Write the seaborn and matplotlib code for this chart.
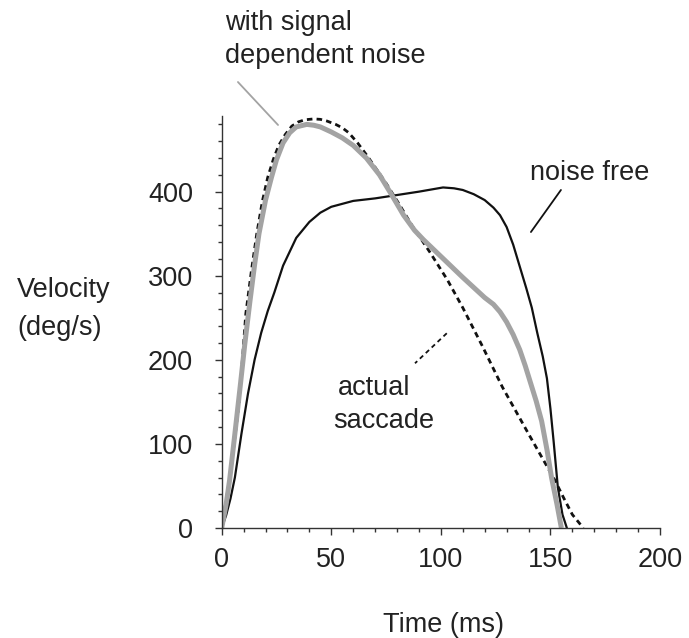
import matplotlib
matplotlib.use("Agg")
import matplotlib.pyplot as plt
import seaborn as sns
import pandas as pd
import numpy as np

# ---- data ----
noise_free_t = [0, 2, 4, 6, 9, 12, 15, 18, 21, 24, 28, 34, 40, 45, 50, 60, 70, 80, 90, 101,
                106, 110, 115, 120, 124, 127, 130, 133, 136, 139, 141.5, 144, 146.5, 148.4,
                150, 151.5, 153.4, 155.5, 157.5]
noise_free_v = [0, 15, 35, 60, 112, 160, 200, 232, 258, 280, 312, 345, 364, 375, 382, 389, 392,
                396, 400, 405, 404, 402, 397, 390, 381, 372, 358, 337, 311, 285, 262, 232, 204,
                178, 142, 102, 48, 16, 0]

noisy_t = [0, 2, 3.6, 6, 8.5, 10.5, 12.8, 15, 17, 20, 22.7, 25, 28, 31, 34, 38.8, 42, 45, 50,
           55, 60, 66, 72, 77.6, 83, 88, 92, 96, 100, 110, 120, 124, 127, 130, 133, 136, 138.5,
           141, 143.5, 146, 148.5, 150.5, 153, 155]
noisy_v = [0, 28, 57, 112, 170, 218, 268, 313, 350, 390, 417, 438, 458, 470, 477, 480, 479, 477,
           471, 464, 455, 440, 420, 396, 372, 354, 343, 333, 323, 298, 274, 266, 257, 245, 230,
           212, 193, 172, 151, 127, 92, 60, 28, 0]

actual_t = [0, 4, 8, 11, 13.5, 16, 18.5, 21, 23.5, 26, 29, 32, 35, 38, 42, 45, 48, 52, 55, 58,
            62, 66, 70, 75, 81, 87, 95, 103, 110, 119, 128, 140, 152, 156, 160, 165]
actual_v = [0, 65, 150, 255, 305, 350, 388, 417, 438, 455, 468, 478, 483, 485.5, 486.5, 486, 484,
            480, 476, 470, 458, 444, 429, 410, 385, 359, 328, 295, 262, 216, 168, 112, 57, 36,
            16, 0]

x_ticks = [0, 50, 100, 150, 200]
y_ticks = [0, 100, 200, 300, 400]

# ---- style ----
sns.set_theme(style="white")
plt.rcParams["font.family"] = ["Liberation Sans", "DejaVu Sans"]
TXT = "#222222"
FS = 19.5

fig = plt.figure(figsize=(6.89, 6.38), dpi=100)
ax = fig.add_axes([0.3218, 0.17241, 0.6361, 0.6458])

df_nf = pd.DataFrame({"t": noise_free_t, "v": noise_free_v})
df_ns = pd.DataFrame({"t": noisy_t, "v": noisy_v})
df_ac = pd.DataFrame({"t": actual_t, "v": actual_v})

sns.lineplot(data=df_nf, x="t", y="v", ax=ax, color="#111111", linewidth=1.6, sort=False)
ax.lines[-1].set_solid_joinstyle("round")
sns.lineplot(data=df_ac, x="t", y="v", ax=ax, color="#111111", linewidth=2.0, sort=False)
ax.lines[-1].set_dashes((2.0, 1.5))
sns.lineplot(data=df_ns, x="t", y="v", ax=ax, color="#a3a3a3", linewidth=3.6, sort=False)
ax.lines[-1].set_solid_capstyle("butt")
ax.lines[-1].set_solid_joinstyle("round")

ax.set_xlim(0, 200)
ax.set_ylim(0, 490)
ax.set_xticks(x_ticks)
ax.set_yticks(y_ticks)
ax.set_xticks(np.arange(0, 201, 10), minor=True)
ax.set_yticks(np.arange(0, 481, 20), minor=True)
ax.set_xticklabels([str(t) for t in x_ticks])
ax.set_yticklabels([str(t) for t in y_ticks])

for s in ["top", "right"]:
    ax.spines[s].set_visible(False)
for s in ["left", "bottom"]:
    ax.spines[s].set_color("#333333")
    ax.spines[s].set_linewidth(1.0)

ax.tick_params(axis="both", which="both", direction="out", colors="#333333",
               labelcolor=TXT, labelsize=FS, width=1.0)
ax.tick_params(axis="y", which="major", length=5, pad=15.6, left=True)
ax.tick_params(axis="y", which="minor", length=3, left=True)
ax.tick_params(axis="x", which="major", length=5, pad=8.4, bottom=True)
ax.tick_params(axis="x", which="minor", length=3, bottom=True)

ax.set_xlabel("Time (ms)", fontsize=FS, color=TXT, va="baseline")
ax.xaxis.set_label_coords(0.505, -0.2524)
ax.set_ylabel("")

# y label (two lines, horizontal)
ax.text(-93.4, 274.7, "Velocity", fontsize=FS, color=TXT, ha="left", va="baseline", clip_on=False)
ax.text(-93.4, 229.5, "(deg/s)", fontsize=FS, color=TXT, ha="left", va="baseline", clip_on=False)

# annotations
ax.text(1.5, 592.3, "with signal", fontsize=FS, color=TXT, ha="left", va="baseline", clip_on=False)
ax.text(1.5, 553.0, "dependent noise", fontsize=FS, color=TXT, ha="left", va="baseline", clip_on=False)
ax.plot([7.4, 25.7], [530.4, 479.3], color="#a3a3a3", linewidth=1.3, clip_on=False)

ax.text(140.7, 413.9, "noise free", fontsize=FS, color=TXT, ha="left", va="baseline", clip_on=False)
ax.plot([154.8, 141.1], [402, 352], color="#111111", linewidth=1.3, clip_on=False)

ax.text(53.1, 158.2, "actual", fontsize=FS, color=TXT, ha="left", va="baseline", clip_on=False)
ax.text(50.8, 118.9, "saccade", fontsize=FS, color=TXT, ha="left", va="baseline", clip_on=False)
ax.plot([102.7, 88.2], [231.6, 195.9], color="#111111", linewidth=1.3,
        linestyle=(0, (2.5, 2.0)), clip_on=False)

fig.savefig("out.png", dpi=100, facecolor="white")
